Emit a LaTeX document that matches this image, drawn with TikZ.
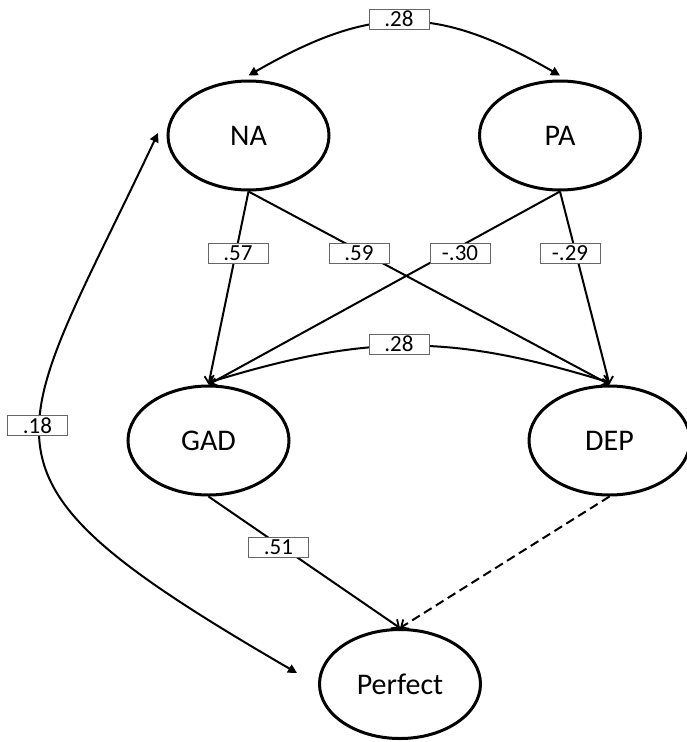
\documentclass[tikz,border=0pt]{standalone}
\usepackage{fontspec}
\setmainfont{Carlito}
\usetikzlibrary{shapes.geometric,arrows.meta}
\begin{document}
\begin{tikzpicture}[x=1pt,y=-1pt,
  latent/.style={draw,ellipse,line width=3pt,minimum width=161pt,minimum height=109pt,
    inner sep=0pt,font=\fontsize{30}{30}\selectfont},
  coef/.style={draw=black!60,line width=0.8pt,fill=white,minimum width=60pt,
    minimum height=20pt,inner sep=0pt,font=\fontsize{23}{23}\selectfont},
  reg/.style={line width=2pt,-{Straight Barb[length=6pt,width=11pt,line width=1.8pt]}},
  covtri/.style={line width=2pt,{Triangle[length=9pt,width=9pt]}-{Triangle[length=9pt,width=9pt]}},
  covbarb/.style={line width=2pt,{Straight Barb[length=6pt,width=11pt,line width=1.8pt]}-{Straight Barb[length=6pt,width=11pt,line width=1.8pt]}},
  nsreg/.style={reg,dash pattern=on 9pt off 5pt}
]
\useasboundingbox (0,0) rectangle (687,742);

% latent variables
\node[latent] (NA)  at (248.5,135.5) {NA};
\node[latent] (PA)  at (560,135.5)   {PA};
\node[latent] (GAD) at (208.5,440.5) {GAD};
\node[latent] (DEP) at (609.5,440.5) {DEP};
\node[latent] (Perf) at (400,684)    {Perfect};

% free ends of the NA--Perfect covariance
\coordinate (nain) at (158,133);
\coordinate (pfin) at (297,673);

% covariances
\draw[covtri] ([yshift=4pt]NA.north) .. controls +(124,-71) and +(-124,-71) .. ([yshift=4pt]PA.north);
\draw[covbarb] ([yshift=2pt]GAD.north) .. controls +(160,-49) and +(-160,-49) .. ([yshift=2pt]DEP.north);
\draw[covtri] (pfin) .. controls +(-346,-201) and +(-150,318) .. (nain);

% regression paths
\draw[reg] (NA.south) -- (GAD.north);
\draw[reg] (NA.south) -- (DEP.north);
\draw[reg] (PA.south) -- (GAD.north);
\draw[reg] (PA.south) -- (DEP.north);
\draw[reg] (GAD.south) -- (Perf.north);
\draw[nsreg] (DEP.south) -- (Perf.north);

% path coefficients
\node[coef] (c1) at (399,19)    {.28};
\node[coef] (c2) at (238,253)   {.57};
\node[coef] (c3) at (359,253)   {.59};
\node[coef] (c4) at (460,253)   {-.30};
\node[coef] (c5) at (570,253)   {-.29};
\node[coef] (c6) at (399,344)   {.28};
\node[coef] (c7) at (37.5,425.5) {.18};
\node[coef] (c8) at (278.5,547.5) {.51};
\end{tikzpicture}
\end{document}
